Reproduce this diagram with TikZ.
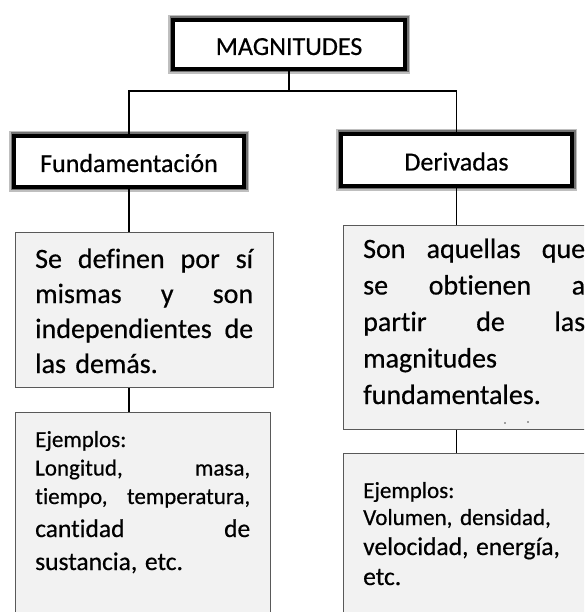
\documentclass[tikz,border=0pt]{standalone}
\usepackage{fontspec}
\setmainfont{Carlito}[Ligatures=NoCommon, FakeBold=0.5]
\newcommand{\spread}[2]{\makebox[#1pt][l]{#2}}

\begin{document}
\begin{tikzpicture}[x=1pt, y=-1pt,
  head/.style={draw=black, line width=4.5pt, fill=white, inner sep=0pt,
    text height=21pt, text depth=0pt, font=\fontsize{26}{30}\selectfont,
    preaction={draw=black!25, line width=9.5pt},
    preaction={draw=black!55, line width=7pt}},
  graybox/.style={draw=black!65, line width=1pt, fill=black!5, inner sep=0pt},
  body/.style={inner sep=0pt, anchor=base west, align=left},
  link/.style={line width=1.2pt}]
\useasboundingbox (0,0) rectangle (584,612);
\clip (0,0) rectangle (584,612);

\node[head, minimum width=232pt, minimum height=49pt] (magn) at (289,44.5) {MAGNITUDES};
\node[head, minimum width=230pt, minimum height=51pt] (fund) at (129,161.5) {Fundamentación};
\node[head, minimum width=231pt, minimum height=52pt] (deriv) at (456.5,160) {Derivadas};

\node[graybox, minimum width=258pt, minimum height=155pt] (defL) at (144,309.5) {};
\node[graybox, minimum width=257pt, minimum height=204pt] (defR) at (471.5,327) {};
\node[graybox, minimum width=255pt, minimum height=213pt] (ejL) at (142.5,518.5) {};
\node[graybox, minimum width=257pt, minimum height=172pt] (ejR) at (471.5,539) {};

\coordinate (bus) at (289,91);
\draw[link] (magn.south) -- (bus);
\draw[link] (fund.north) |- (bus) -| (deriv.north);
\draw[link] (fund.south) -- (fund.south |- defL.north);
\draw[link] (defL.south -| fund.south) -- (fund.south |- ejL.north);
\draw[link] (deriv.south) -- (deriv.south |- defR.north);
\draw[link] (defR.south -| deriv.south) -- (deriv.south |- ejR.north);

\node[body, text width=218pt, font=\fontsize{28}{35}\selectfont] (defLt) at (35,268)
  {\spread{218}{Se\hfill definen\hfill por\hfill sí}\\
   \spread{218}{mismas\hfill y\hfill son}\\
   \spread{218}{independientes\hfill de}\\
   las demás.};
\node[body, text width=222pt, font=\fontsize{28}{36.5}\selectfont] (defRt) at (363,258)
  {\spread{222}{Son\hfill aquellas\hfill que}\\
   \spread{222}{se\hfill obtienen\hfill a}\\
   \spread{222}{partir\hfill de\hfill las}\\
   magnitudes\\
   fundamentales.};
\node[body, text width=215pt, font=\fontsize{23}{28.5}\selectfont] (ejLt) at (35,447)
  {Ejemplos:\\
   \spread{215}{Longitud,\hfill masa,}\\
   \spread{215}{tiempo,\hfill temperatura,}\\[4.5pt]
   \fontsize{25.5}{28.5}\selectfont\spread{215}{cantidad\hfill de}\\[4.5pt]
   sustancia, etc.};
\node[body, text width=220pt, font=\fontsize{23}{27}\selectfont] (ejRt) at (363,498)
  {Ejemplos:\\
   Volumen, densidad,\\[3pt]
   \fontsize{25.5}{27}\selectfont velocidad, energía,\\[3pt]
   etc.};

\fill[black!70] (505,423) circle (0.9);
\fill[black!70] (528,422) circle (0.9);
\end{tikzpicture}
\end{document}
